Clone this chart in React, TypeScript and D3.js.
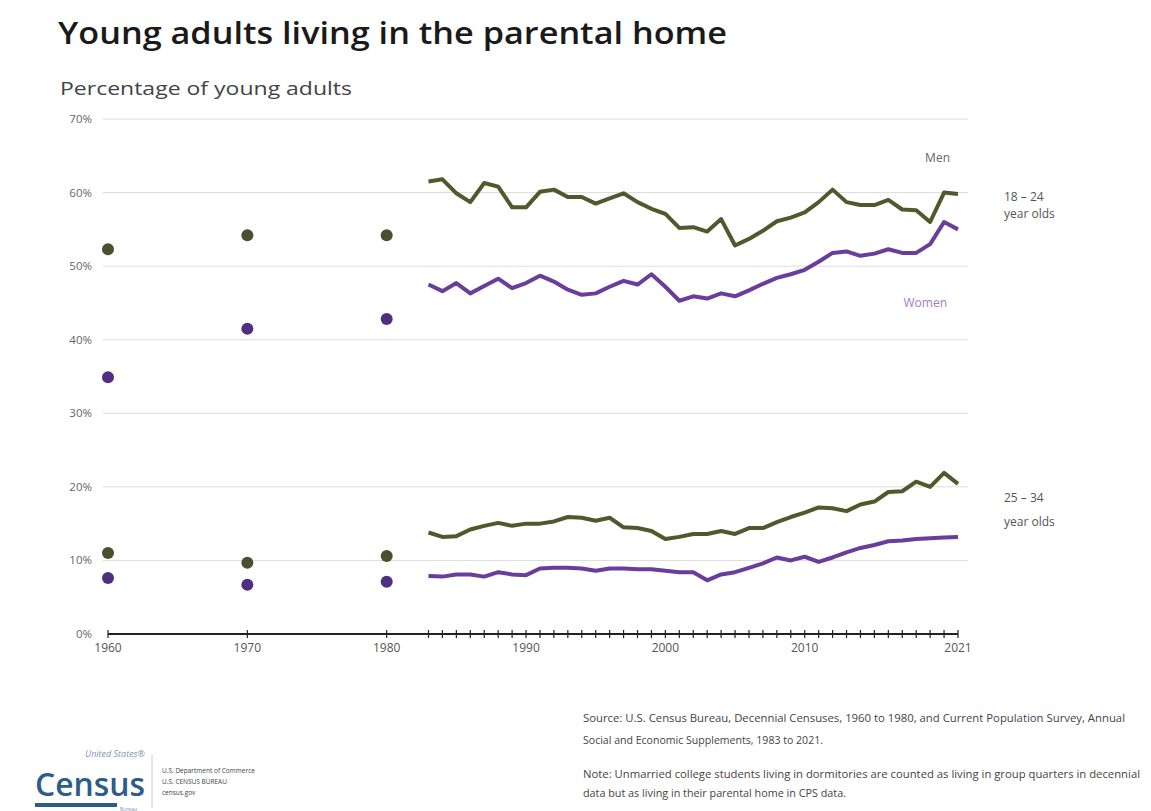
import React from "react";
import * as d3 from "d3";

const lineYears = d3.range(1983, 2022);
const men1824 = [61.5,61.8,59.9,58.7,61.3,60.8,58.0,58.0,60.1,60.4,59.4,59.4,58.5,59.2,59.9,58.7,57.8,57.1,55.2,55.3,54.7,56.4,52.8,53.7,54.8,56.1,56.6,57.3,58.7,60.4,58.7,58.3,58.3,59.0,57.7,57.6,56.0,60.0,59.8];
const women1824 = [47.5,46.6,47.7,46.3,47.3,48.3,47.0,47.7,48.7,47.9,46.8,46.1,46.3,47.2,48.0,47.5,48.9,47.2,45.3,45.9,45.6,46.3,45.9,46.7,47.6,48.4,48.9,49.5,50.6,51.8,52.0,51.4,51.7,52.3,51.8,51.8,53.0,56.0,55.0];
const men2534 = [13.8,13.2,13.3,14.2,14.7,15.1,14.7,15.0,15.0,15.3,15.9,15.8,15.4,15.8,14.5,14.4,14.0,12.9,13.2,13.6,13.6,14.0,13.6,14.4,14.4,15.2,15.9,16.5,17.2,17.1,16.7,17.6,18.0,19.3,19.4,20.7,20.0,21.9,20.4];
const women2534 = [7.9,7.8,8.1,8.1,7.8,8.4,8.1,8.0,8.9,9.0,9.0,8.9,8.6,8.9,8.9,8.8,8.8,8.6,8.4,8.4,7.3,8.1,8.4,9.0,9.6,10.4,10.0,10.5,9.8,10.4,11.1,11.7,12.1,12.6,12.7,12.9,13.0,13.1,13.2];

const censusYears = [1960, 1970, 1980];
const censusMen1824 = [52.3, 54.2, 54.2];
const censusWomen1824 = [34.9, 41.5, 42.8];
const censusMen2534 = [11.0, 9.7, 10.6];
const censusWomen2534 = [7.6, 6.7, 7.1];

const yTicks = [0, 10, 20, 30, 40, 50, 60, 70];
const xLabelYears = [1960, 1970, 1980, 1990, 2000, 2010, 2021];
const tickYears = [1960, 1970, 1980, ...lineYears];

const MEN = "#4d5a2b";
const WOMEN = "#6a3d9a";
const MEN_DOT = "#48512f";
const WOMEN_DOT = "#4f2f80";
const FONT = "'Open Sans', 'Noto Sans', sans-serif";

export default function App() {
  const W = 1151, H = 811;
  const x = d3.scaleLinear().domain([1960, 2021]).range([108, 958]);
  const y = d3.scaleLinear().domain([0, 70]).range([634, 119]);
  const line = d3.line<number>().x((_, i) => x(lineYears[i])).y((d) => y(d));

  const series = [
    { data: men1824, color: MEN },
    { data: women1824, color: WOMEN },
    { data: men2534, color: MEN },
    { data: women2534, color: WOMEN },
  ];
  const dots = [
    { data: censusMen1824, color: MEN_DOT },
    { data: censusWomen1824, color: WOMEN_DOT },
    { data: censusMen2534, color: MEN_DOT },
    { data: censusWomen2534, color: WOMEN_DOT },
  ];

  return (
    <svg width={W} height={H} style={{ position: "absolute", left: 0, top: 0, background: "#fff" }} fontFamily={FONT}>
      <rect width={W} height={H} fill="#fff" />
      <text x={58} y={44} fontSize={31} fontWeight={600} fill="#1a1a1a" textLength={669} lengthAdjust="spacingAndGlyphs">Young adults living in the parental home</text>
      <text x={60} y={95} fontSize={18} fill="#444" textLength={292} lengthAdjust="spacingAndGlyphs">Percentage of young adults</text>

      {yTicks.map((t) => (
        <g key={t}>
          {t > 0 && <line x1={103} x2={968} y1={y(t)} y2={y(t)} stroke="#dcdcdc" strokeWidth={1} />}
          <text x={92} y={y(t) + 4} fontSize={11.5} fill="#666" textAnchor="end">{t}%</text>
        </g>
      ))}

      <line x1={x(1960)} x2={x(2021)} y1={y(0)} y2={y(0)} stroke="#222" strokeWidth={2} />
      {tickYears.map((t) => (
        <line key={t} x1={x(t)} x2={x(t)} y1={y(0) - 4} y2={y(0) + 4} stroke="#222" strokeWidth={1.2} />
      ))}
      {xLabelYears.map((t) => (
        <text key={t} x={x(t)} y={y(0) + 18} fontSize={12} fill="#555" textAnchor="middle">{t}</text>
      ))}

      {series.map((s, i) => (
        <path key={i} d={line(s.data) || ""} fill="none" stroke={s.color} strokeWidth={4} strokeLinejoin="round" />
      ))}
      {dots.map((s, i) =>
        s.data.map((v, j) => <circle key={`${i}-${j}`} cx={x(censusYears[j])} cy={y(v)} r={6} fill={s.color} />)
      )}

      <text x={950} y={162} fontSize={12} fill="#666" textAnchor="end">Men</text>
      <text x={947} y={307} fontSize={12} fill="#a07cc4" textAnchor="end">Women</text>
      <text x={1004} y={201} fontSize={12} fill="#555">18 – 24</text>
      <text x={1004} y={218} fontSize={12} fill="#555">year olds</text>
      <text x={1004} y={502} fontSize={12} fill="#555">25 – 34</text>
      <text x={1004} y={526} fontSize={12} fill="#555">year olds</text>

      <text x={583} y={722} fontSize={10} fill="#444" textLength={542} lengthAdjust="spacingAndGlyphs">Source: U.S. Census Bureau, Decennial Censuses, 1960 to 1980, and Current Population Survey, Annual</text>
      <text x={583} y={744} fontSize={10} fill="#444" textLength={240} lengthAdjust="spacingAndGlyphs">Social and Economic Supplements, 1983 to 2021.</text>
      <text x={583} y={778} fontSize={10} fill="#444" textLength={557} lengthAdjust="spacingAndGlyphs">Note: Unmarried college students living in dormitories are counted as living in group quarters in decennial</text>
      <text x={583} y={797} fontSize={10} fill="#444" textLength={263} lengthAdjust="spacingAndGlyphs">data but as living in their parental home in CPS data.</text>

      <g>
        <text x={145} y={757} fontSize={9} fill="#7a96b8" fontStyle="italic" textAnchor="end">United States®</text>
        <text x={35} y={796} fontSize={32} fill="#2d5c8a" fontWeight={600} textLength={110} lengthAdjust="spacingAndGlyphs">Census</text>
        <rect x={35} y={803} width={82} height={4} fill="#2d5c8a" />
        <text x={120} y={811} fontSize={5} fill="#7a96b8">Bureau</text>
        <line x1={152} x2={152} y1={755} y2={808} stroke="#ccc" />
        <text x={162} y={773} fontSize={6.5} fill="#444">U.S. Department of Commerce</text>
        <text x={162} y={784} fontSize={6.5} fill="#444">U.S. CENSUS BUREAU</text>
        <text x={162} y={795} fontSize={6.5} fill="#444">census.gov</text>
      </g>
    </svg>
  );
}
